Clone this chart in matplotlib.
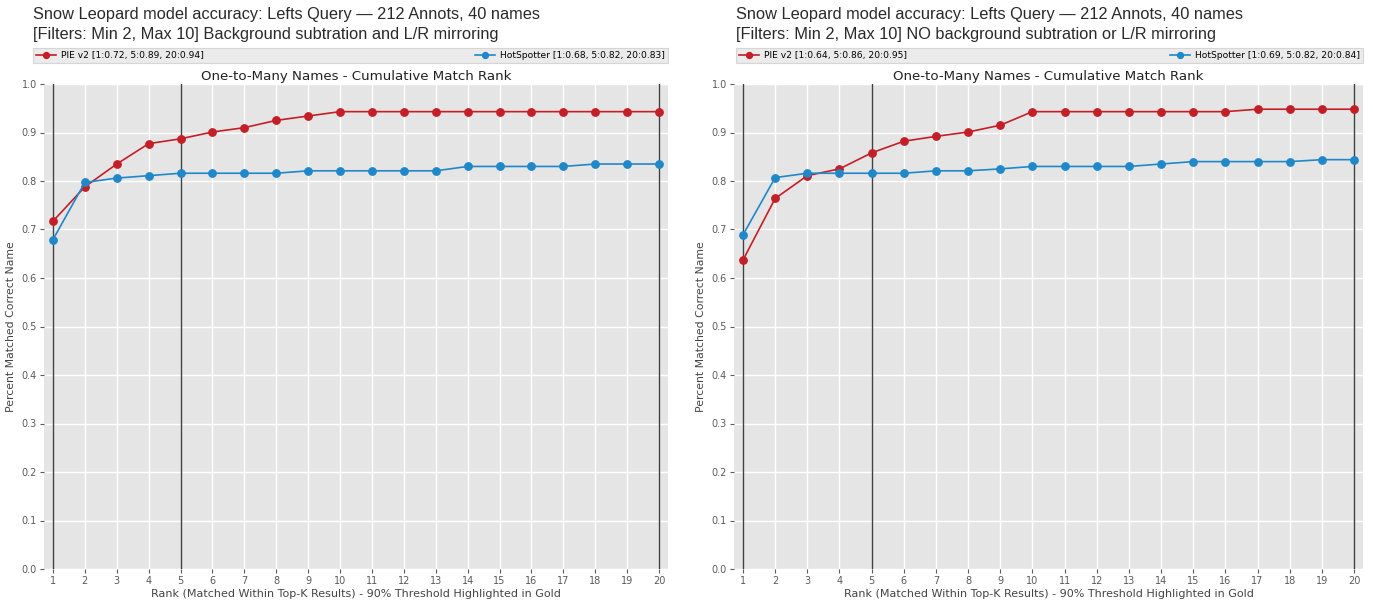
import matplotlib
matplotlib.use("Agg")
import matplotlib.pyplot as plt
import numpy as np

ranks = list(range(1, 21))

# Left panel: Background subtraction and L/R mirroring
left_pie = [0.717, 0.788, 0.835, 0.877, 0.887, 0.901, 0.910, 0.925, 0.934, 0.943,
            0.943, 0.943, 0.943, 0.943, 0.943, 0.943, 0.943, 0.943, 0.943, 0.943]
left_hs = [0.679, 0.797, 0.806, 0.811, 0.816, 0.816, 0.816, 0.816, 0.821, 0.821,
           0.821, 0.821, 0.821, 0.830, 0.830, 0.830, 0.830, 0.835, 0.835, 0.835]

# Right panel: NO background subtraction or L/R mirroring
right_pie = [0.637, 0.764, 0.811, 0.825, 0.858, 0.882, 0.892, 0.901, 0.915, 0.943,
             0.943, 0.943, 0.943, 0.943, 0.943, 0.943, 0.948, 0.948, 0.948, 0.948]
right_hs = [0.689, 0.807, 0.816, 0.816, 0.816, 0.816, 0.821, 0.821, 0.825, 0.830,
            0.830, 0.830, 0.830, 0.835, 0.840, 0.840, 0.840, 0.840, 0.844, 0.844]

left_labels = ["PIE v2 [1:0.72, 5:0.89, 20:0.94]", "HotSpotter [1:0.68, 5:0.82, 20:0.83]"]
right_labels = ["PIE v2 [1:0.64, 5:0.86, 20:0.95]", "HotSpotter [1:0.69, 5:0.82, 20:0.84]"]

sup_line1 = "Snow Leopard model accuracy: Lefts Query \u2014 212 Annots, 40 names"
left_line2 = "[Filters: Min 2, Max 10] Background subtration and L/R mirroring"
right_line2 = "[Filters: Min 2, Max 10] NO background subtration or L/R mirroring"

ax_title = "One-to-Many Names - Cumulative Match Rank"
x_label = "Rank (Matched Within Top-K Results) - 90% Threshold Highlighted in Gold"
y_label = "Percent Matched Correct Name"
highlight_ranks = [1, 5, 20]

RED = "#c41e26"
BLUE = "#1f88c9"
W, H = 1373, 604
fig = plt.figure(figsize=(W / 100, H / 100), dpi=100)


def make_panel(px_left, px_right, pie, hs, labels, line2, text_x):
    top, bottom = 84, 569
    ax = fig.add_axes([px_left / W, 1 - bottom / H, (px_right - px_left) / W, (bottom - top) / H])
    ax.set_facecolor("#e5e5e5")
    for s in ax.spines.values():
        s.set_visible(False)
    ax.grid(True, color="white", linewidth=1.0)
    ax.set_axisbelow(True)
    for r in highlight_ranks:
        ax.axvline(r, color="#404040", linewidth=1.0, zorder=1.5)
    ax.plot(ranks, pie, color=RED, marker="o", markersize=5.3, linewidth=1.2,
            label=labels[0], zorder=3)
    ax.plot(ranks, hs, color=BLUE, marker="o", markersize=5.3, linewidth=1.2,
            label=labels[1], zorder=3)
    ax.set_xlim(0.72, 20.28)
    ax.set_ylim(0.0, 1.0)
    ax.set_xticks(ranks)
    ax.set_yticks(np.arange(0, 1.01, 0.1))
    ax.set_yticklabels([f"{v:.1f}" for v in np.arange(0, 1.01, 0.1)])
    ax.tick_params(axis="both", labelsize=7.0, colors="#5a5a5a", length=3, width=0.8,
                   direction="out", pad=2)
    ax.set_title(ax_title, fontsize=9.6, color="#222222", pad=3)
    ax.set_xlabel(x_label, fontsize=8.0, color="#444444", labelpad=2)
    ax.set_ylabel(y_label, fontsize=7.8, color="#444444", labelpad=4)
    pw = px_right - px_left
    lx0 = (text_x - px_left) / pw
    leg = ax.legend(loc="lower left", bbox_to_anchor=(lx0, 1.044, (px_right - text_x) / pw, 0.036),
                    mode="expand", ncol=2, fontsize=6.6, frameon=True, borderaxespad=0,
                    handlelength=2.2, borderpad=0.3, handletextpad=0.6, markerscale=0.8,
                    fancybox=False)
    leg.get_frame().set_facecolor("#e6e6e6")
    leg.get_frame().set_edgecolor("#cfcfcf")
    leg.get_frame().set_linewidth(0.8)
    fig.text(text_x / W, 1 - 14 / H, sup_line1, fontsize=11.8, family="Liberation Sans",
             color="#2a2a2a", ha="left", va="center")
    fig.text(text_x / W, 1 - 34 / H, line2, fontsize=11.8, family="Liberation Sans",
             color="#2a2a2a", ha="left", va="center")
    return ax


make_panel(44, 668, left_pie, left_hs, left_labels, left_line2, 33)
make_panel(734, 1363, right_pie, right_hs, right_labels, right_line2, 736)

fig.savefig("out.png", dpi=100, facecolor="white")
